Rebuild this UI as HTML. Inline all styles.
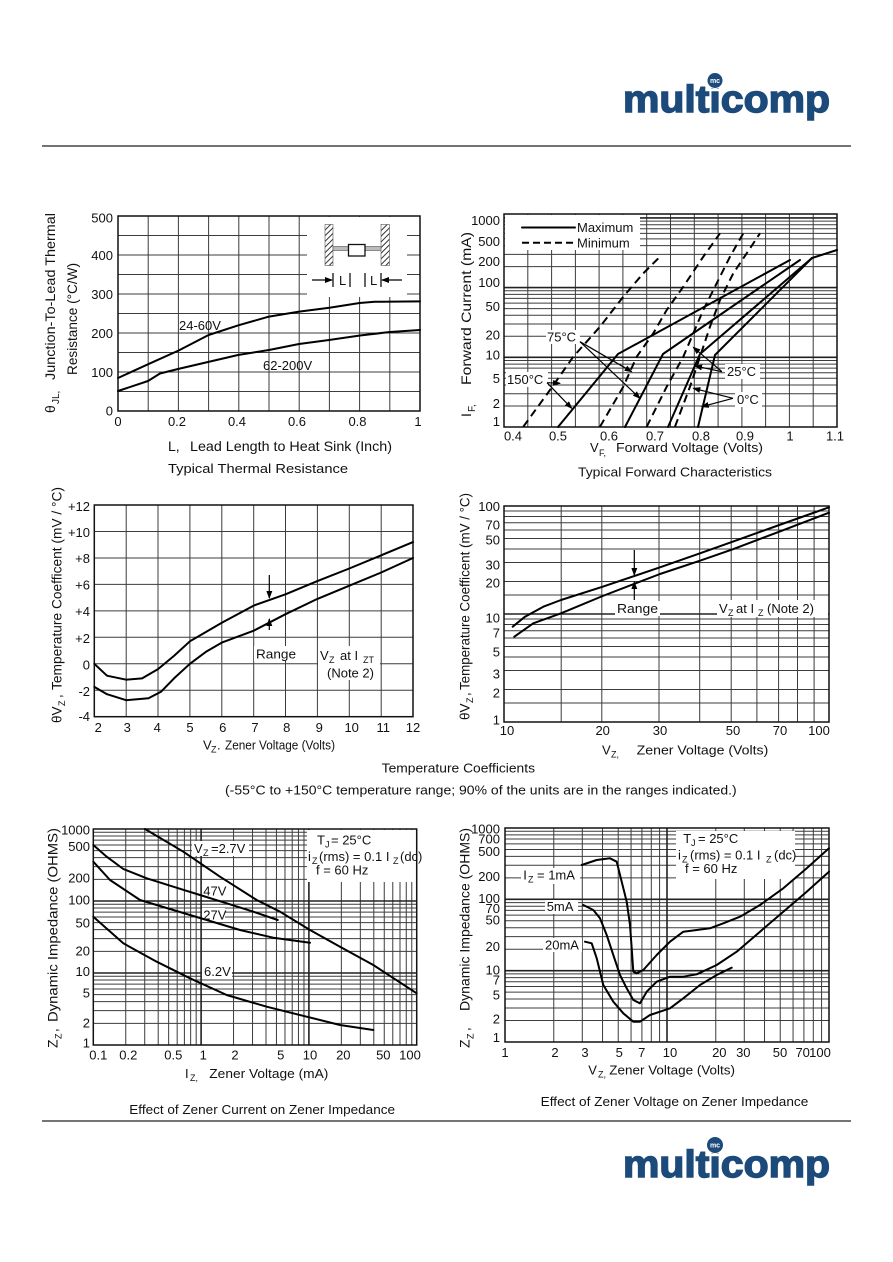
<!DOCTYPE html>
<html><head><meta charset="utf-8"><style>
html,body{margin:0;padding:0;background:#fff;}
svg{display:block;}
text{font-family:"Liberation Sans",Arial,sans-serif;font-size:13px;fill:#111;}
.g{stroke:#3c3c3c;stroke-width:1;fill:none;}
.gd{stroke:#222;stroke-width:1.6;fill:none;}
.b{stroke:#111;stroke-width:1.5;fill:none;}
.c{stroke:#000;stroke-width:2;fill:none;stroke-linejoin:round;stroke-linecap:round;}
.d{stroke:#000;stroke-width:2;fill:none;stroke-dasharray:8,5;}
.a{stroke:#000;stroke-width:1.2;fill:none;}
.w{fill:#fff;stroke:none;}
.r{text-anchor:end;}
.m{text-anchor:middle;}
.logo{font-family:"Liberation Sans",Arial,sans-serif;font-weight:bold;font-size:38px;fill:#1b4a7b;stroke:#1b4a7b;stroke-width:1.4;}
</style></head><body>
<svg width="893" height="1262" viewBox="0 0 893 1262" xmlns="http://www.w3.org/2000/svg">
<defs>
<marker id="ah" markerWidth="8" markerHeight="6" refX="7" refY="3" orient="auto" markerUnits="userSpaceOnUse"><path d="M0,0L8,3L0,6z" fill="#000"/></marker>
<pattern id="hatch" width="4" height="4" patternUnits="userSpaceOnUse" patternTransform="rotate(45)"><rect width="4" height="4" fill="#fff"/><line x1="0" y1="0" x2="0" y2="4" stroke="#333" stroke-width="2"/></pattern>
</defs>
<rect width="893" height="1262" fill="#fff"/>

<!-- Header logo -->
<text class="logo" x="623" y="112" textLength="207" lengthAdjust="spacingAndGlyphs">multicomp</text>
<circle cx="715" cy="80.5" r="8.5" fill="#fff"/>
<circle cx="715" cy="80.5" r="7.5" fill="#1b4a7b"/>
<text x="715" y="83" class="m" style="font-size:7px;fill:#fff;font-weight:bold">mc</text>
<line x1="42" y1="146" x2="851" y2="146" stroke="#222" stroke-width="1.3"/>

<!-- ============ CHART 1 ============ -->
<path class="g" d="M148.2 216V411M178.4 216V411M208.6 216V411M238.8 216V411M269 216V411M299.2 216V411M329.4 216V411M359.6 216V411M389.8 216V411M118 391.5H420M118 372H420M118 352.5H420M118 333H420M118 313.5H420M118 294H420M118 274.5H420M118 255H420M118 235.5H420"/>
<rect class="w" x="307" y="217" width="100" height="80"/>
<rect class="b" x="118" y="216" width="302" height="195"/>
<!-- inset -->
<rect x="325" y="224.5" width="8" height="41" fill="url(#hatch)" stroke="#555" stroke-width="0.6"/>
<rect x="381" y="224.5" width="8.5" height="41" fill="url(#hatch)" stroke="#555" stroke-width="0.6"/>
<rect x="333" y="246.5" width="48" height="4" fill="#bbb" stroke="#666" stroke-width="0.7"/>
<rect x="348.5" y="244.5" width="16.5" height="11.5" fill="#fff" stroke="#111" stroke-width="1.3"/>
<line class="a" x1="312" y1="280" x2="332" y2="280" marker-end="url(#ah)"/>
<line class="a" x1="333" y1="273" x2="333" y2="287"/>
<text x="339" y="285" style="font-size:13px">L</text>
<line class="a" x1="350" y1="273" x2="350" y2="287"/>
<line class="a" x1="365" y1="273" x2="365" y2="287"/>
<text x="370" y="285" style="font-size:13px">L</text>
<line class="a" x1="381" y1="273" x2="381" y2="287"/>
<line class="a" x1="402" y1="280" x2="382" y2="280" marker-end="url(#ah)"/>
<polyline class="c" points="118,378 148.2,364.2 178.4,350.6 208.6,335 238.8,325.2 269,316.6 299.2,311.6 329.4,307.7 359.6,303 374.7,301.8 420,301.4"/>
<polyline class="c" points="118,391 148,381 160,373.5 178,369 208,362 238,355 269,350 299,344 329,340 360,335.5 390,332 420,330"/>
<text x="179" y="330">24-60V</text>
<text x="263" y="370">62-200V</text>
<g class="r"><text x="113" y="222.5" class="r">500</text><text x="113" y="260" class="r">400</text><text x="113" y="299" class="r">300</text><text x="113" y="338" class="r">200</text><text x="113" y="377" class="r">100</text><text x="113" y="415.5" class="r">0</text></g>
<text x="118" y="426" class="m">0</text><text x="177" y="426" class="m">0.2</text><text x="237" y="426" class="m">0.4</text><text x="297" y="426" class="m">0.6</text><text x="357.5" y="426" class="m">0.8</text><text x="418" y="426" class="m">1</text>
<text x="168" y="451" style="font-size:14px">L,</text>
<text x="190" y="451" style="font-size:14px" textLength="202" lengthAdjust="spacingAndGlyphs">Lead Length to Heat Sink (Inch)</text>
<text x="168" y="473" textLength="180" lengthAdjust="spacingAndGlyphs">Typical Thermal Resistance</text>
<g transform="translate(55,413) rotate(-90)">
<text x="0" y="0" style="font-size:14px">θ</text><text x="9" y="4" style="font-size:10px">JL,</text>
<text x="33" y="0" style="font-size:14px" textLength="167" lengthAdjust="spacingAndGlyphs">Junction-To-Lead Thermal</text>
</g>
<g transform="translate(77,375) rotate(-90)"><text x="0" y="0" style="font-size:14px" textLength="112" lengthAdjust="spacingAndGlyphs">Resistance (°C/W)</text></g>

<!-- ============ CHART 2 ============ -->
<path class="g" d="M527.8 214V427M551.6 214V427M575.4 214V427M599.1 214V427M622.9 214V427M646.7 214V427M670.5 214V427M694.3 214V427M718.1 214V427M741.9 214V427M765.6 214V427M789.4 214V427M813.2 214V427M504 406H837M504 393.75H837M504 385H837M504 378.3H837M504 372.8H837M504 368.1H837M504 364.1H837M504 360.5H837M504 336.3H837M504 324.05H837M504 315.3H837M504 308.6H837M504 303.1H837M504 298.4H837M504 294.4H837M504 290.8H837M504 266.6H837M504 254.35H837M504 245.6H837M504 238.9H837M504 233.4H837M504 228.7H837M504 224.7H837M504 221.1H837"/>
<path class="gd" d="M504 357.3H837M504 287.6H837M504 217.9H837"/>
<rect class="w" x="505" y="215" width="135" height="35"/>
<rect class="w" x="546" y="330" width="34" height="14"/>
<rect class="w" x="506" y="372" width="42" height="15"/>
<rect class="w" x="725" y="364" width="35" height="15"/>
<rect class="w" x="735" y="392" width="27" height="15"/>
<rect class="b" x="504" y="214" width="333" height="213"/>
<line class="c" x1="522" y1="227.5" x2="575" y2="227.5"/>
<line class="d" x1="522" y1="242.7" x2="575" y2="242.7" style="stroke-dasharray:7,4"/>
<text x="577" y="232">Maximum</text>
<text x="577" y="247.5">Minimum</text>
<polyline class="d" points="523.3,426.7 550,390 573.3,356.7 600,326.7 623.3,296.7 643.3,273.3 661.7,255"/>
<polyline class="d" points="600,426.7 623.3,386.7 636.7,356.7 653.3,333.3 666.7,310 683.3,286.7 703.3,256.7 720,233.3"/>
<polyline class="d" points="646.7,426.7 666.7,386.7 683.3,356.7 693.3,333.3 703.3,310 716.7,283.3 730,256.7 743.3,233.3"/>
<polyline class="d" points="675,426.7 690,386.7 700,356.7 710,326.7 720,300 733.3,273.3 746.7,253.3 760,233.3"/>
<polyline class="c" points="558,427 618,354 790,260"/>
<polyline class="c" points="625,427 663,354 800,260"/>
<polyline class="c" points="668,427 700,354 812,258"/>
<polyline class="c" points="698,427 715,355 812,258 837,250"/>
<text x="547" y="341.5">75°C</text>
<text x="507" y="384">150°C</text>
<text x="727" y="376">25°C</text>
<text x="737" y="404">0°C</text>
<line class="a" x1="580" y1="341.7" x2="631.7" y2="371.7" marker-end="url(#ah)"/>
<line class="a" x1="580" y1="341.7" x2="640" y2="398.3" marker-end="url(#ah)"/>
<line class="a" x1="547" y1="382.7" x2="560" y2="383.3" marker-end="url(#ah)"/>
<line class="a" x1="547" y1="382.7" x2="571.7" y2="408.3" marker-end="url(#ah)"/>
<line class="a" x1="722" y1="371.7" x2="693.3" y2="347.3" marker-end="url(#ah)"/>
<line class="a" x1="722" y1="371.7" x2="695" y2="366" marker-end="url(#ah)"/>
<line class="a" x1="733" y1="398.3" x2="693.3" y2="388.3" marker-end="url(#ah)"/>
<line class="a" x1="733" y1="398.3" x2="701.7" y2="406.7" marker-end="url(#ah)"/>
<text x="500" y="225.2" class="r">1000</text><text x="500" y="246.2" class="r">500</text><text x="500" y="266.2" class="r">200</text><text x="500" y="286.8" class="r">100</text><text x="500" y="311.2" class="r">50</text><text x="500" y="339.5" class="r">20</text><text x="500" y="359.5" class="r">10</text><text x="500" y="382.8" class="r">5</text><text x="500" y="407.8" class="r">2</text><text x="500" y="426.2" class="r">1</text>
<text x="513" y="440.5" class="m">0.4</text><text x="558" y="440.5" class="m">0.5</text><text x="609" y="440.5" class="m">0.6</text><text x="655" y="440.5" class="m">0.7</text><text x="701" y="440.5" class="m">0.8</text><text x="745" y="440.5" class="m">0.9</text><text x="790" y="440.5" class="m">1</text><text x="835" y="440.5" class="m">1.1</text>
<text x="590" y="452">V</text><text x="599" y="456" style="font-size:9px">F,</text>
<text x="616" y="452" textLength="147" lengthAdjust="spacingAndGlyphs">Forward Voltage (Volts)</text>
<text x="578" y="476.5" textLength="194" lengthAdjust="spacingAndGlyphs">Typical Forward Characteristics</text>
<g transform="translate(471,417) rotate(-90)">
<text x="0" y="0" style="font-size:14px">I</text><text x="5" y="4" style="font-size:10px">F,</text>
<text x="32" y="0" style="font-size:14px" textLength="153" lengthAdjust="spacingAndGlyphs">Forward  Current (mA)</text>
</g>

<!-- ============ CHART 3 ============ -->
<path class="g" d="M126.2 505V716.7M158 505V716.7M189.9 505V716.7M221.8 505V716.7M253.7 505V716.7M285.5 505V716.7M317.4 505V716.7M349.3 505V716.7M381.2 505V716.7M94.3 531.5H413M94.3 558H413M94.3 584.4H413M94.3 610.9H413M94.3 637.3H413M94.3 663.8H413M94.3 690.2H413"/>
<rect class="w" x="254" y="646" width="44" height="15"/>
<rect class="w" x="318" y="646" width="62" height="34"/>
<rect class="b" x="94.3" y="505" width="318.7" height="211.7"/>
<polyline class="c" points="94.3,663.8 107,675.7 126.2,679.7 142.1,678.4 158,669.1 174,655.9 189.9,641.3 221.8,622.8 253.7,605.6 285.5,594.3 317.4,581.1 349.3,568.5 381.2,555.3 413,542.1"/>
<polyline class="c" points="94.3,686.9 107,694.2 126.2,700.2 148.5,698.2 161.2,691.6 174,678.4 189.9,663.8 205.8,651.9 221.8,642.6 253.7,630.7 285.5,614.2 317.4,598.9 349.3,585.7 381.2,572.5 413,558"/>
<line class="a" x1="269.3" y1="575" x2="269.3" y2="598" stroke-width="1.5" marker-end="url(#ah)"/>
<line class="a" x1="269.3" y1="630" x2="269.3" y2="619" stroke-width="1.5" marker-end="url(#ah)"/>
<text x="256" y="658.5" textLength="40" lengthAdjust="spacingAndGlyphs">Range</text>
<text x="320" y="660">V</text><text x="329" y="663" style="font-size:9px">Z</text><text x="340" y="660">at I</text><text x="363" y="663" style="font-size:9px">ZT</text>
<text x="327" y="677.5">(Note 2)</text>
<text x="90" y="511.2" class="r">+12</text><text x="90" y="537.2" class="r">+10</text><text x="90" y="562.8" class="r">+8</text><text x="90" y="589.5" class="r">+6</text><text x="90" y="616.2" class="r">+4</text><text x="90" y="642.8" class="r">+2</text><text x="90" y="669.5" class="r">0</text><text x="90" y="696.2" class="r">-2</text><text x="90" y="721.2" class="r">-4</text>
<text x="98.3" y="732" class="m">2</text><text x="127.3" y="732" class="m">3</text><text x="157.3" y="732" class="m">4</text><text x="190" y="732" class="m">5</text><text x="222.7" y="732" class="m">6</text><text x="255" y="732" class="m">7</text><text x="286.7" y="732" class="m">8</text><text x="319.3" y="732" class="m">9</text><text x="351.7" y="732" class="m">10</text><text x="383.3" y="732" class="m">11</text><text x="413" y="732" class="m">12</text>
<text x="203" y="749.5">V</text><text x="211" y="752.5" style="font-size:9px">Z</text><text x="217" y="749.5">.</text>
<text x="225" y="749.5" textLength="110" lengthAdjust="spacingAndGlyphs">Zener Voltage (Volts)</text>
<g transform="translate(61.5,723) rotate(-90)">
<text x="0" y="0" style="font-size:13.5px">θV</text><text x="17" y="3.5" style="font-size:9px">Z</text><text x="25" y="0">,</text>
<text x="33" y="0" style="font-size:13.5px" textLength="203" lengthAdjust="spacingAndGlyphs">Temperature Coefficent (mV / °C)</text>
</g>

<!-- ============ CHART 4 ============ -->
<path class="g" d="M561.2 506V722M601.8 506V722M659 506V722M699.7 506V722M731.2 506V722M756.9 506V722M778.6 506V722M797.5 506V722M814.1 506V722M504 703H829M504 689.5H829M504 670.5H829M504 657H829M504 646.5H829M504 638H829M504 630.7H829M504 624.5H829M504 619H829M504 595H829M504 581.5H829M504 562.5H829M504 549H829M504 538.5H829M504 530H829M504 522.7H829M504 516.5H829M504 511H829"/>
<path class="gd" d="M504 614H829"/>
<rect class="w" x="615" y="601" width="45" height="15"/>
<rect class="w" x="717" y="600" width="111" height="17"/>
<rect class="b" x="504" y="506" width="325" height="216"/>
<polyline class="c" points="512.7,626.7 525,616.7 543.3,606.7 561,600 602.7,586.7 660,567.3 700,553.3 732.7,541.7 779.3,525 829,507.3"/>
<polyline class="c" points="514.3,636.7 533.3,623.3 561,613.3 602.7,596 660,574 700,560.7 732.7,549.3 779.3,531.7 829,512.7"/>
<line class="a" x1="634.3" y1="550" x2="634.3" y2="575" stroke-width="1.5" marker-end="url(#ah)"/>
<line class="a" x1="634.3" y1="600" x2="634.3" y2="582" stroke-width="1.5" marker-end="url(#ah)"/>
<text x="617" y="613" textLength="41" lengthAdjust="spacingAndGlyphs">Range</text>
<text x="719" y="613">V</text><text x="728" y="616" style="font-size:9px">Z</text><text x="736" y="613">at I</text><text x="758" y="616" style="font-size:9px">Z</text><text x="767" y="613">(Note 2)</text>
<text x="500" y="511" class="r">100</text><text x="500" y="529.5" class="r">70</text><text x="500" y="544.5" class="r">50</text><text x="500" y="569.5" class="r">30</text><text x="500" y="587.5" class="r">20</text><text x="500" y="622.5" class="r">10</text><text x="500" y="637.5" class="r">7</text><text x="500" y="656.5" class="r">5</text><text x="500" y="678.5" class="r">3</text><text x="500" y="697.5" class="r">2</text><text x="500" y="724.5" class="r">1</text>
<text x="507" y="735" class="m">10</text><text x="602.7" y="735" class="m">20</text><text x="660" y="735" class="m">30</text><text x="733" y="735" class="m">50</text><text x="780" y="735" class="m">70</text><text x="819" y="735" class="m">100</text>
<text x="602" y="754.5">V</text><text x="611" y="757.5" style="font-size:9px">Z,</text>
<text x="636.7" y="754.5" textLength="131.6" lengthAdjust="spacingAndGlyphs">Zener Voltage (Volts)</text>
<g transform="translate(469.5,720) rotate(-90)">
<text x="0" y="0" style="font-size:13.5px">θV</text><text x="17" y="3.5" style="font-size:9px">Z</text><text x="24" y="0">,</text>
<text x="30" y="0" style="font-size:13.5px" textLength="197" lengthAdjust="spacingAndGlyphs">Temperature Coefficent (mV / °C)</text>
</g>

<!-- Captions middle -->
<text x="381.7" y="772.5" textLength="153.3" lengthAdjust="spacingAndGlyphs">Temperature Coefficients</text>
<text x="225" y="794.5" textLength="511.7" lengthAdjust="spacingAndGlyphs">(-55°C to +150°C temperature range; 90% of the units are in the ranges indicated.)</text>

<!-- ============ CHART 5 ============ -->
<path class="g" d="M125.75 829V1045M144.73 829V1045M158.2 829V1045M168.65 829V1045M177.18 829V1045M184.4 829V1045M190.65 829V1045M196.17 829V1045M233.55 829V1045M252.53 829V1045M266 829V1045M276.45 829V1045M284.98 829V1045M292.2 829V1045M298.45 829V1045M303.97 829V1045M341.35 829V1045M360.33 829V1045M373.8 829V1045M384.25 829V1045M392.78 829V1045M400 829V1045M406.25 829V1045M411.77 829V1045M93.3 1023.33H416.7M93.3 1010.65H416.7M93.3 1001.65H416.7M93.3 994.67H416.7M93.3 988.97H416.7M93.3 984.15H416.7M93.3 979.98H416.7M93.3 976.3H416.7M93.3 951.33H416.7M93.3 938.65H416.7M93.3 929.65H416.7M93.3 922.67H416.7M93.3 916.97H416.7M93.3 912.15H416.7M93.3 907.98H416.7M93.3 904.3H416.7M93.3 879.33H416.7M93.3 866.65H416.7M93.3 857.65H416.7M93.3 850.67H416.7M93.3 844.97H416.7M93.3 840.15H416.7M93.3 835.98H416.7M93.3 832.3H416.7"/>
<path class="gd" d="M201.1 829V1045M308.9 829V1045M93.3 973H416.7M93.3 901H416.7"/>
<rect class="w" x="307" y="830" width="110" height="52"/>
<rect class="w" x="192" y="841" width="57" height="15"/>
<rect class="w" x="202" y="884" width="23" height="14"/>
<rect class="w" x="202" y="908" width="23" height="14"/>
<rect class="w" x="202" y="965" width="30" height="14"/>
<rect class="b" x="93.3" y="829" width="323.4" height="216"/>
<polyline class="c" points="145,829 183.3,851.7 220,876.7 256.7,900 280,911.7 310,930 340,946.7 373.3,965 416.7,993.3"/>
<polyline class="c" points="93.3,845 106.7,856.7 123.3,869 146.7,878.3 173.3,886.7 200,895 226.7,903.3 253.3,911.7 277.7,920"/>
<polyline class="c" points="93.3,861.7 110,880 140,900 173.3,910 206.7,920 240,930 273.3,937.7 310,942.7"/>
<polyline class="c" points="93.3,916.7 123.3,943.3 156.7,961.7 190,978.3 226.7,995 266.7,1006.7 306.7,1016.7 340,1025 373.3,1030"/>
<text x="194" y="853">V</text><text x="203" y="856" style="font-size:9px">Z</text><text x="211" y="853">=2.7V</text>
<text x="203.3" y="895.5">47V</text>
<text x="203.3" y="919.5">27V</text>
<text x="204" y="976">6.2V</text>
<text x="317" y="844.5">T</text><text x="325" y="847.5" style="font-size:9px">J</text><text x="331" y="844.5">= 25°C</text>
<text x="308" y="861">i</text><text x="312" y="864" style="font-size:9px">Z</text><text x="319" y="861">(rms) = 0.1 I</text><text x="393" y="864" style="font-size:9px">Z</text><text x="400" y="861">(dc)</text>
<text x="316" y="874.5">f = 60 Hz</text>
<text x="90" y="834.5" class="r">1000</text><text x="90" y="851" class="r">500</text><text x="90" y="882.5" class="r">200</text><text x="90" y="904.5" class="r">100</text><text x="90" y="927.5" class="r">50</text><text x="90" y="955.5" class="r">20</text><text x="90" y="976" class="r">10</text><text x="90" y="997.5" class="r">5</text><text x="90" y="1027.5" class="r">2</text><text x="90" y="1047.5" class="r">1</text>
<text x="98.3" y="1059.5" class="m">0.1</text><text x="128.3" y="1059.5" class="m">0.2</text><text x="173.3" y="1059.5" class="m">0.5</text><text x="203.3" y="1059.5" class="m">1</text><text x="235" y="1059.5" class="m">2</text><text x="280.7" y="1059.5" class="m">5</text><text x="310" y="1059.5" class="m">10</text><text x="343.3" y="1059.5" class="m">20</text><text x="383.3" y="1059.5" class="m">50</text><text x="410" y="1059.5" class="m">100</text>
<text x="185" y="1078">I</text><text x="190" y="1081" style="font-size:9px">Z,</text>
<text x="209.3" y="1078" textLength="119" lengthAdjust="spacingAndGlyphs">Zener Voltage (mA)</text>
<text x="129.3" y="1114" textLength="265.7" lengthAdjust="spacingAndGlyphs">Effect of Zener Current on Zener Impedance</text>
<g transform="translate(57.5,1048) rotate(-90)">
<text x="0" y="0" style="font-size:14px">Z</text><text x="9" y="4" style="font-size:9px">Z</text><text x="16" y="0">,</text>
<text x="26" y="0" style="font-size:14px" textLength="194" lengthAdjust="spacingAndGlyphs">Dynamic Impedance (OHMS)</text>
</g>

<!-- ============ CHART 6 ============ -->
<path class="g" d="M553.77 828V1042M582.29 828V1042M602.53 828V1042M618.23 828V1042M631.06 828V1042M641.91 828V1042M651.3 828V1042M659.58 828V1042M715.77 828V1042M744.29 828V1042M764.53 828V1042M780.23 828V1042M793.06 828V1042M803.91 828V1042M813.3 828V1042M821.58 828V1042M505 1020.53H829M505 1007.97H829M505 999.05H829M505 992.14H829M505 986.5H829M505 981.72H829M505 977.58H829M505 973.93H829M505 949.2H829M505 936.64H829M505 927.72H829M505 920.81H829M505 915.17H829M505 910.39H829M505 906.25H829M505 902.6H829M505 877.86H829M505 865.3H829M505 856.38H829M505 849.47H829M505 843.83H829M505 839.05H829M505 834.91H829M505 831.26H829"/>
<path class="gd" d="M667 828V1042M505 970.67H829M505 899.33H829"/>
<rect class="w" x="676" y="831" width="119" height="48"/>
<rect class="w" x="521" y="868" width="59" height="16"/>
<rect class="w" x="545" y="900" width="33" height="14"/>
<rect class="w" x="543" y="938" width="39" height="14"/>
<rect class="b" x="505" y="828" width="324" height="214"/>
<polyline class="c" points="581.7,865 596.7,860 610,858.3 616.7,861.7 621.7,881.7 626.7,901.7 630,925 631.7,948.3 633.3,971.7 636.7,973.3 643.3,970 656.7,955 670,941.7 683.3,931.7 696.7,930 710,928.3 723.3,923.3 740,916.7 760,905 783.3,888.3 806.7,868.3 829,848.3"/>
<polyline class="c" points="583.3,905 593.3,910 600,918.3 606.7,935 613.3,955 620,975 626.7,988.3 633.3,1000 640,1003.3 646.7,991.7 656.7,981.7 670,976.7 683.3,976.7 696.7,974.3 716.7,965 736.7,951.7 760,931.7 783.3,911.7 806.7,891.7 829,871.7"/>
<polyline class="c" points="585,941.7 591.7,943.3 596.7,958.3 603.3,985 613.3,1001.7 623.3,1013.3 633.3,1021.7 640,1021.7 650,1015 660,1011.7 670,1008.3 683.3,998.3 700,985 716.7,975 731.7,967.7"/>
<text x="523.3" y="879.5">I</text><text x="528" y="882.5" style="font-size:9px">Z</text><text x="537" y="879.5">= 1mA</text>
<text x="546.7" y="911">5mA</text>
<text x="545" y="949.5">20mA</text>
<text x="683.3" y="843">T</text><text x="691" y="846" style="font-size:9px">J</text><text x="698" y="843">= 25°C</text>
<text x="678" y="859.5">i</text><text x="682" y="862.5" style="font-size:9px">Z</text><text x="690" y="859.5">(rms) = 0.1 I</text><text x="766" y="862.5" style="font-size:9px">Z</text><text x="774" y="859.5">(dc)</text>
<text x="685" y="873">f = 60 Hz</text>
<g style="font-size:12.5px"><text x="500" y="833.5" class="r">1000</text><text x="500" y="843.5" class="r">700</text><text x="500" y="856" class="r">500</text></g>
<text x="500" y="881" class="r">200</text><text x="500" y="903" class="r">100</text><text x="500" y="913" class="r">70</text><text x="500" y="924.5" class="r">50</text><text x="500" y="951" class="r">20</text><text x="500" y="974.5" class="r">10</text><text x="500" y="984.5" class="r">7</text><text x="500" y="999.5" class="r">5</text><text x="500" y="1023.5" class="r">2</text><text x="500" y="1042" class="r">1</text>
<text x="505" y="1057" class="m">1</text><text x="555" y="1057" class="m">2</text><text x="585" y="1057" class="m">3</text><text x="619.3" y="1057" class="m">5</text><text x="641.7" y="1057" class="m">7</text><text x="670" y="1057" class="m">10</text><text x="719.3" y="1057" class="m">20</text><text x="743.3" y="1057" class="m">30</text><text x="780" y="1057" class="m">50</text><text x="802.7" y="1057" class="m">70</text><text x="820" y="1057" class="m">100</text>
<text x="588.3" y="1074.5">V</text><text x="598" y="1077.5" style="font-size:9px">Z,</text>
<text x="609.3" y="1074.5" textLength="125.7" lengthAdjust="spacingAndGlyphs">Zener Voltage (Volts)</text>
<text x="540.7" y="1106" textLength="267.6" lengthAdjust="spacingAndGlyphs">Effect of Zener Voltage on Zener Impedance</text>
<g transform="translate(469.5,1048) rotate(-90)">
<text x="0" y="0" style="font-size:14px">Z</text><text x="9" y="4" style="font-size:9px">Z</text><text x="17" y="0">,</text>
<text x="37" y="0" style="font-size:14px" textLength="183" lengthAdjust="spacingAndGlyphs">Dynamic Impedance  (OHMS)</text>
</g>

<!-- Footer -->
<line x1="42" y1="1121" x2="851" y2="1121" stroke="#222" stroke-width="1.3"/>
<text class="logo" x="623" y="1177" textLength="207" lengthAdjust="spacingAndGlyphs">multicomp</text>
<circle cx="715" cy="1145" r="9" fill="#fff"/>
<circle cx="715" cy="1145" r="8" fill="#1b4a7b"/>
<text x="715" y="1147.5" class="m" style="font-size:7px;fill:#fff;font-weight:bold">mc</text>
</svg>
</body></html>
